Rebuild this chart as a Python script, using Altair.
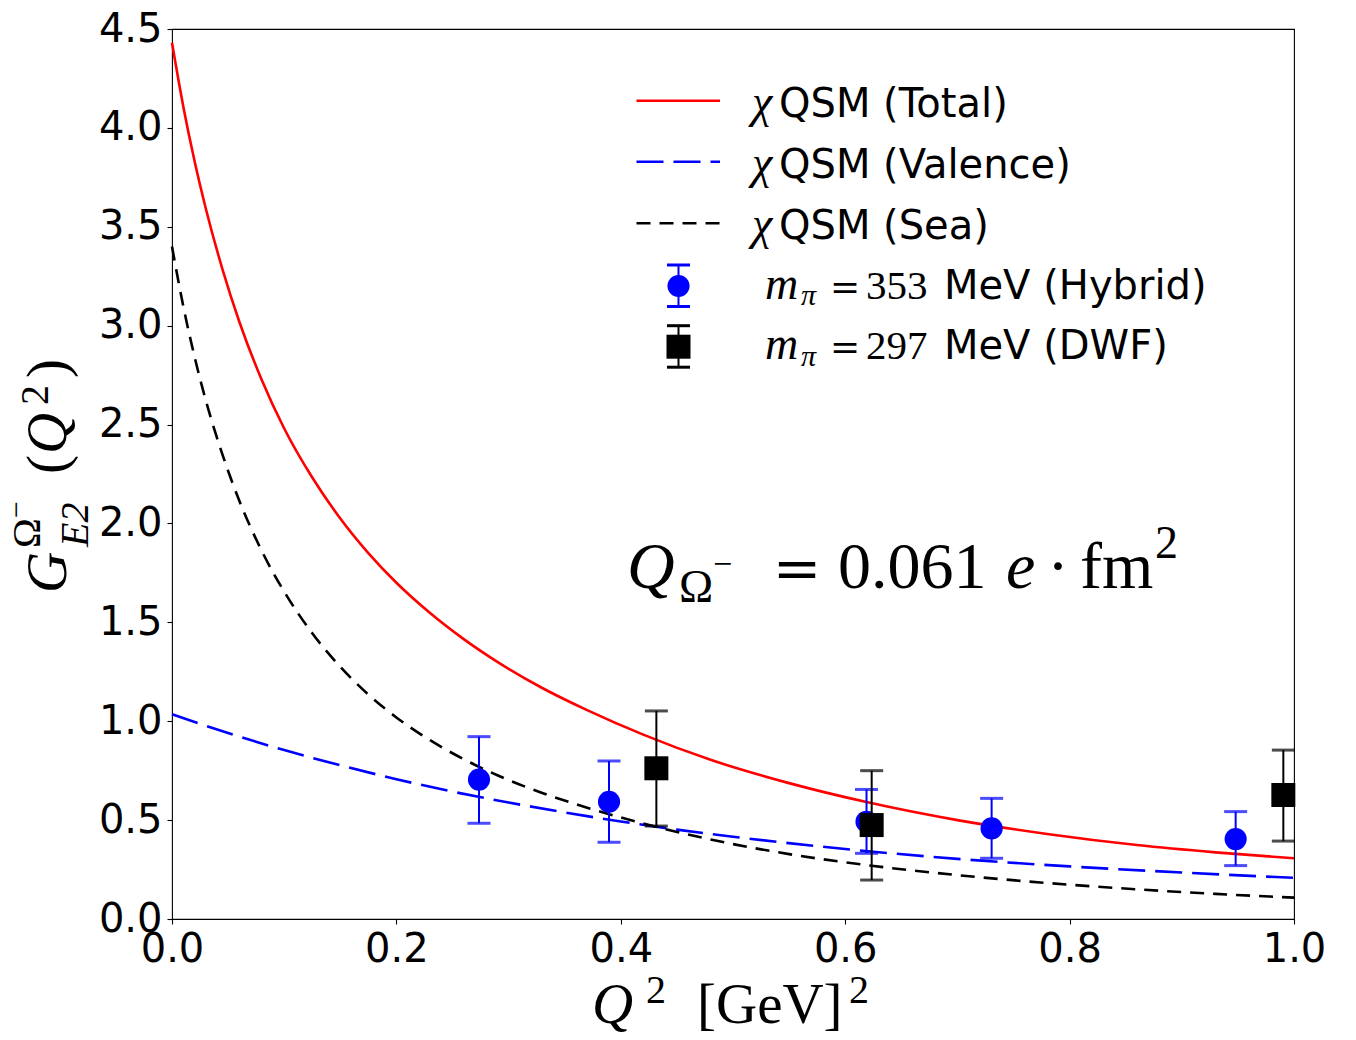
import altair as alt
import pandas as pd

# ---------------- data ----------------
total_q2 = [0.0, 0.01, 0.02, 0.03, 0.045, 0.06, 0.08, 0.1, 0.125, 0.15, 0.175, 0.2, 0.23,
            0.26, 0.29, 0.33, 0.37, 0.42, 0.48, 0.55, 0.62, 0.7, 0.78, 0.86, 0.93, 1.0]
total_g = [4.43, 4.11, 3.835, 3.595, 3.285, 3.02, 2.725, 2.48, 2.232, 2.025, 1.85, 1.70, 1.547,
           1.415, 1.30, 1.168, 1.056, 0.932, 0.805, 0.687, 0.59, 0.50, 0.43, 0.374, 0.337, 0.307]

sea_q2 = [0.0, 0.01, 0.02, 0.03, 0.045, 0.06, 0.08, 0.1, 0.125, 0.15, 0.175, 0.2, 0.23,
          0.26, 0.29, 0.33, 0.37, 0.42, 0.48, 0.55, 0.62, 0.7, 0.78, 0.86, 0.93, 1.0]
sea_g = [3.40, 3.10, 2.845, 2.625, 2.348, 2.115, 1.861, 1.655, 1.445, 1.275, 1.135, 1.019, 0.904,
         0.808, 0.727, 0.637, 0.563, 0.483, 0.402, 0.328, 0.272, 0.222, 0.182, 0.150, 0.127, 0.108]

val_q2 = [0.0, 0.05, 0.1, 0.15, 0.2, 0.25, 0.3, 0.35, 0.4, 0.45, 0.5, 0.6, 0.7, 0.8, 0.9, 1.0]
val_g = [1.035, 0.940, 0.854, 0.777, 0.707, 0.644, 0.589, 0.539, 0.493, 0.452, 0.416, 0.354,
         0.304, 0.266, 0.235, 0.208]

hyb_q2 = [0.2736, 0.3895, 0.619, 0.7305, 0.948]
hyb_g = [0.705, 0.593, 0.492, 0.458, 0.404]
hyb_lo = [0.484, 0.388, 0.332, 0.307, 0.27]
hyb_hi = [0.922, 0.799, 0.655, 0.61, 0.543]

dwf_q2 = [0.4317, 0.6236, 0.9905]
dwf_g = [0.762, 0.475, 0.627]
dwf_lo = [0.47, 0.197, 0.394]
dwf_hi = [1.052, 0.75, 0.854]

x_ticks = [0.0, 0.2, 0.4, 0.6, 0.8, 1.0]
y_ticks = [0.0, 0.5, 1.0, 1.5, 2.0, 2.5, 3.0, 3.5, 4.0, 4.5]

line_labels = ["QSM (Total)", "QSM (Valence)", "QSM (Sea)"]
point_masses = ["353", "297"]
point_labels = ["MeV (Hybrid)", "MeV (DWF)"]

# ---------------- layout ----------------
OX, OY = 172, 29
W, H = 1122, 890
SERIF = "Liberation Serif"
DSERIF = "DejaVu Serif"
SANS = "DejaVu Sans"

df_total = pd.DataFrame({"q2": total_q2, "g": total_g})
df_sea = pd.DataFrame({"q2": sea_q2, "g": sea_g})
df_val = pd.DataFrame({"q2": val_q2, "g": val_g})
df_hyb = pd.DataFrame({"q2": hyb_q2, "g": hyb_g, "lo": hyb_lo, "hi": hyb_hi})
df_dwf = pd.DataFrame({"q2": dwf_q2, "g": dwf_g, "lo": dwf_lo, "hi": dwf_hi})

X = alt.X("q2:Q", scale=alt.Scale(domain=[0, 1], nice=False, zero=False),
          axis=alt.Axis(values=x_ticks, format=".1f", title=None))
Y = alt.Y("g:Q", scale=alt.Scale(domain=[0, 4.5], nice=False, zero=False),
          axis=alt.Axis(values=y_ticks, format=".1f", title=None))

LW = 2.6
total = alt.Chart(df_total).mark_line(color="#ff0000", strokeWidth=LW, interpolate="monotone").encode(x=X, y=Y)
valence = alt.Chart(df_val).mark_line(color="#0000ff", strokeWidth=LW, strokeDash=[27, 10],
                                      interpolate="monotone").encode(x=X, y=Y)
sea = alt.Chart(df_sea).mark_line(color="black", strokeWidth=LW, strokeDash=[14, 9],
                                  interpolate="monotone").encode(x=X, y=Y)


def errpoints(df, color, shape, size):
    bars = alt.Chart(df).mark_rule(color=color, strokeWidth=2).encode(x=X, y=alt.Y("lo:Q"), y2="hi:Q")
    cap_lo = alt.Chart(df).mark_tick(color=color, orient="horizontal", size=23, thickness=3).encode(x=X, y=alt.Y("lo:Q"))
    cap_hi = alt.Chart(df).mark_tick(color=color, orient="horizontal", size=23, thickness=3).encode(x=X, y=alt.Y("hi:Q"))
    pts = alt.Chart(df).mark_point(shape=shape, filled=True, color=color, opacity=1, size=size).encode(x=X, y=Y)
    return [bars, cap_lo, cap_hi, pts]


ONE = alt.Data(values=[{"a": 1}])


def txt(s, x, y, size, font=SERIF, style="normal", angle=0, align="left"):
    return alt.Chart(ONE).mark_text(text=s, font=font, fontSize=size, fontStyle=style, angle=angle,
                                    align=align, baseline="alphabetic", color="black").encode(
        x=alt.value(x - OX), y=alt.value(y - OY))


def hline(x1, x2, y, color, width, dash=None):
    kw = dict(color=color, strokeWidth=width)
    if dash:
        kw["strokeDash"] = dash
    return alt.Chart(ONE).mark_rule(**kw).encode(
        x=alt.value(x1 - OX), x2=alt.value(x2 - OX), y=alt.value(y - OY))


layers = [total, valence, sea]
layers += errpoints(df_hyb, "#0000ff", "circle", 490)
layers += errpoints(df_dwf, "black", "square", 576)

# ---- legend ----
rows = [100.7, 161.7, 223.3, 286.0, 346.7]
layers.append(hline(636.5, 720, rows[0], "#ff0000", LW))
layers.append(hline(636.5, 720, rows[1], "#0000ff", LW, [27, 10]))
layers.append(hline(636.5, 720, rows[2], "black", LW, [14, 9]))
for i, lab in enumerate(line_labels):
    layers.append(txt("χ", 752, rows[i] + 16, 46, SERIF, "italic"))
    layers.append(txt(lab, 779, rows[i] + 16, 40, SANS))

for i, (col, shape, size) in enumerate([("#0000ff", "circle", 490), ("black", "square", 576)]):
    yc = rows[3 + i]
    layers.append(alt.Chart(ONE).mark_rule(color=col, strokeWidth=2).encode(
        x=alt.value(678.5 - OX), y=alt.value(yc - 21 - OY), y2=alt.value(yc + 20.5 - OY)))
    layers.append(hline(667, 690, yc - 21, col, 3))
    layers.append(hline(667, 690, yc + 20.5, col, 3))
    layers.append(alt.Chart(ONE).mark_point(shape=shape, filled=True, color=col, opacity=1, size=size).encode(
        x=alt.value(678.5 - OX), y=alt.value(yc - OY)))
    layers.append(txt("m", 765, yc + 12.5, 46, SERIF, "italic"))
    layers.append(txt("π", 801, yc + 19, 30, SERIF, "italic"))
    layers.append(txt("=", 845, yc + 12.5, 36, DSERIF, align="center"))
    layers.append(txt(point_masses[i], 866, yc + 12.5, 41, SERIF))
    layers.append(txt(point_labels[i], 944, yc + 12.5, 40, SANS))

# ---- annotation Q_{Omega^-} = 0.061 e . fm^2 ----
layers.append(txt("Q", 627, 588, 66, SERIF, "italic"))
layers.append(txt("Ω", 679, 602, 46, SERIF))
layers.append(txt("−", 713, 575, 34, SERIF))
layers.append(txt("=", 797, 588, 58, DSERIF, align="center"))
layers.append(txt("0.061", 838, 588, 66, SERIF))
layers.append(txt("e", 1006, 588, 66, SERIF, "italic"))
layers.append(txt("·", 1058, 588, 66, SERIF, align="center"))
layers.append(txt("fm", 1080, 588, 66, SERIF))
layers.append(txt("2", 1155, 558, 46, SERIF))

# ---- x axis title ----
layers.append(txt("Q", 592, 1023, 57, SERIF, "italic"))
layers.append(txt("2", 646, 1003, 40, SERIF))
layers.append(txt("[GeV]", 697, 1023, 57, SERIF))
layers.append(txt("2", 849, 1003, 40, SERIF))

# ---- y axis title (rotated) ----
layers.append(txt("G", 66, 593, 57, SERIF, "italic", angle=270))
layers.append(txt("Ω", 40, 548, 40, SERIF, angle=270))
layers.append(txt("−", 26, 518, 30, SERIF, angle=270))
layers.append(txt("E2", 88, 547, 40, SERIF, "italic", angle=270))
layers.append(txt("(", 66, 474, 57, SERIF, angle=270))
layers.append(txt("Q", 66, 454, 57, SERIF, "italic", angle=270))
layers.append(txt("2", 48, 405, 40, SERIF, angle=270))
layers.append(txt(")", 66, 378, 57, SERIF, angle=270))

chart = alt.layer(*layers).properties(
    width=W, height=H,
    autosize=alt.AutoSizeParams(type="none"),
    padding={"left": OX, "top": OY, "right": 1356 - OX - W, "bottom": 1040 - OY - H},
    background="white",
).configure_axis(
    grid=False, domain=False, labelFont=SANS, labelFontSize=40, labelColor="black",
    tickColor="black", tickSize=5, tickWidth=1.1, labelPadding=5,
    labelOverlap=False, labelFlush=False,
).configure_view(stroke="black", strokeWidth=1.1)

chart.save("out.html", embed_options={"renderer": "svg", "actions": False})
